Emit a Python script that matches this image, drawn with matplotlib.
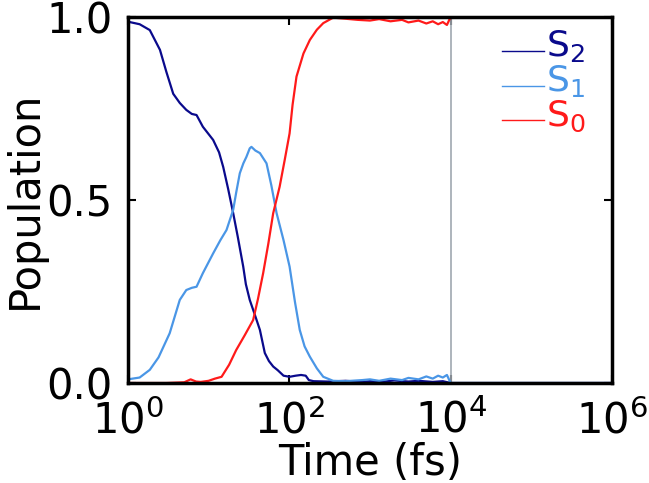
import matplotlib
matplotlib.use('Agg')
import matplotlib.pyplot as plt
from matplotlib.legend_handler import HandlerLine2D

# populations
t_s2 = [1, 1.4, 1.87, 2.5, 3.0, 3.65, 4.4, 5.3, 6.2, 7.1, 8.5, 11.4, 13.5, 15.2, 17.5, 20.2, 23, 26.9, 29, 32.4, 37, 43.3, 49.8, 56, 63.3, 72, 85, 101, 120, 140, 160, 175, 200, 300, 500, 800, 1000, 1500, 2000, 3000, 4000, 6000, 8000, 10000, 1e6]
s2 = [0.987, 0.98, 0.964, 0.91, 0.85, 0.79, 0.765, 0.746, 0.735, 0.732, 0.70, 0.664, 0.63, 0.59, 0.53, 0.464, 0.40, 0.318, 0.27, 0.227, 0.19, 0.145, 0.082, 0.06, 0.045, 0.035, 0.02, 0.017, 0.02, 0.022, 0.02, 0.008, 0.005, 0.004, 0.006, 0.003, 0.005, 0.004, 0.007, 0.004, 0.006, 0.003, 0.005, 0.0, 0.0]

t_s1 = [1, 1.4, 1.87, 2.4, 3.3, 4.4, 5.3, 6.2, 7.1, 8.5, 11.4, 14, 16.7, 20.2, 22, 24.4, 27, 29.5, 32.4, 34, 38, 43.3, 52.3, 60, 69.7, 85, 101, 118, 135, 155, 180, 220, 264, 350, 500, 800, 1000, 1300, 1800, 2500, 3000, 4000, 5000, 6000, 7000, 8000, 9000, 10000, 1e6]
s1 = [0.01, 0.015, 0.036, 0.07, 0.136, 0.227, 0.254, 0.26, 0.263, 0.30, 0.354, 0.39, 0.418, 0.473, 0.52, 0.573, 0.60, 0.618, 0.641, 0.645, 0.635, 0.628, 0.60, 0.54, 0.464, 0.39, 0.318, 0.22, 0.145, 0.10, 0.072, 0.04, 0.017, 0.006, 0.005, 0.008, 0.01, 0.006, 0.012, 0.008, 0.014, 0.01, 0.018, 0.012, 0.02, 0.015, 0.022, 0.0, 0.0]

t_s0 = [1, 3, 5, 6, 7, 8, 10, 12, 14.5, 18, 22, 28, 35.7, 41, 47.5, 55, 63.3, 76, 88, 101, 110, 123, 150, 180, 220, 264, 350, 500, 700, 1000, 1300, 1800, 2500, 3000, 4000, 5000, 6000, 7000, 8000, 9000, 10000, 1e6]
s0 = [0.0, 0.0, 0.002, 0.01, 0.004, 0.003, 0.006, 0.012, 0.017, 0.05, 0.09, 0.13, 0.172, 0.23, 0.30, 0.38, 0.464, 0.536, 0.61, 0.682, 0.76, 0.837, 0.90, 0.937, 0.965, 0.983, 0.998, 0.995, 0.992, 0.99, 0.994, 0.988, 0.992, 0.985, 0.99, 0.982, 0.988, 0.98, 0.986, 0.978, 1.0, 1.0]

plt.rcParams['font.family'] = 'DejaVu Sans'
plt.rcParams['mathtext.fontset'] = 'dejavusans'


# legend lines sit at the baseline of the "S", not the middle
class LowLine(HandlerLine2D):
    def create_artists(self, legend, orig_handle, xdescent, ydescent,
                       width, height, fontsize, trans):
        arts = super().create_artists(legend, orig_handle, xdescent, ydescent,
                                      width, height, fontsize, trans)
        for a in arts:
            a.set_ydata([y - 0.3 * height for y in a.get_ydata()])
        return arts


fig = plt.figure(figsize=(6.49, 4.83), dpi=100)
ax = fig.add_axes([0.197, 0.207, 0.746, 0.758])

ax.axvline(1e4, color='#a0a8b0', lw=1.2)
ax.plot(t_s2, s2, color='#0a0a8c', lw=1.6, label='S$_2$')
ax.plot(t_s1, s1, color='#4a96e6', lw=1.6, label='S$_1$')
ax.plot(t_s0, s0, color='#ff1a1a', lw=1.6, label='S$_0$')

ax.set_xscale('log')
ax.set_xlim(1, 1e6)
ax.set_ylim(0, 1)
ax.set_yticks([0, 0.5, 1.0])
ax.set_yticklabels(['0.0', '0.5', '1.0'])
ax.set_xticks([1, 1e2, 1e4, 1e6])
ax.set_xlabel('Time (fs)', fontsize=30, labelpad=0)
ax.set_ylabel('Population', fontsize=30, labelpad=0)
ax.tick_params(which='both', direction='in', top=True, right=True, labelsize=30, width=1.5)
ax.tick_params(axis='x', which='major', length=6, pad=12)
ax.tick_params(axis='y', which='major', length=6, pad=11)
ax.tick_params(which='minor', length=3)
for sp in ax.spines.values():
    sp.set_linewidth(2.5)

leg = ax.legend(loc='upper right', frameon=False, fontsize=26, handlelength=1.15,
                handletextpad=0.05, labelspacing=-0.02, borderaxespad=0.0,
                bbox_to_anchor=(0.975, 1.01), handler_map={plt.Line2D: LowLine()})
for line, txt in zip(leg.get_lines(), leg.get_texts()):
    line.set_linewidth(1.0)
    txt.set_color(line.get_color())

fig.savefig('out.png', dpi=100)
